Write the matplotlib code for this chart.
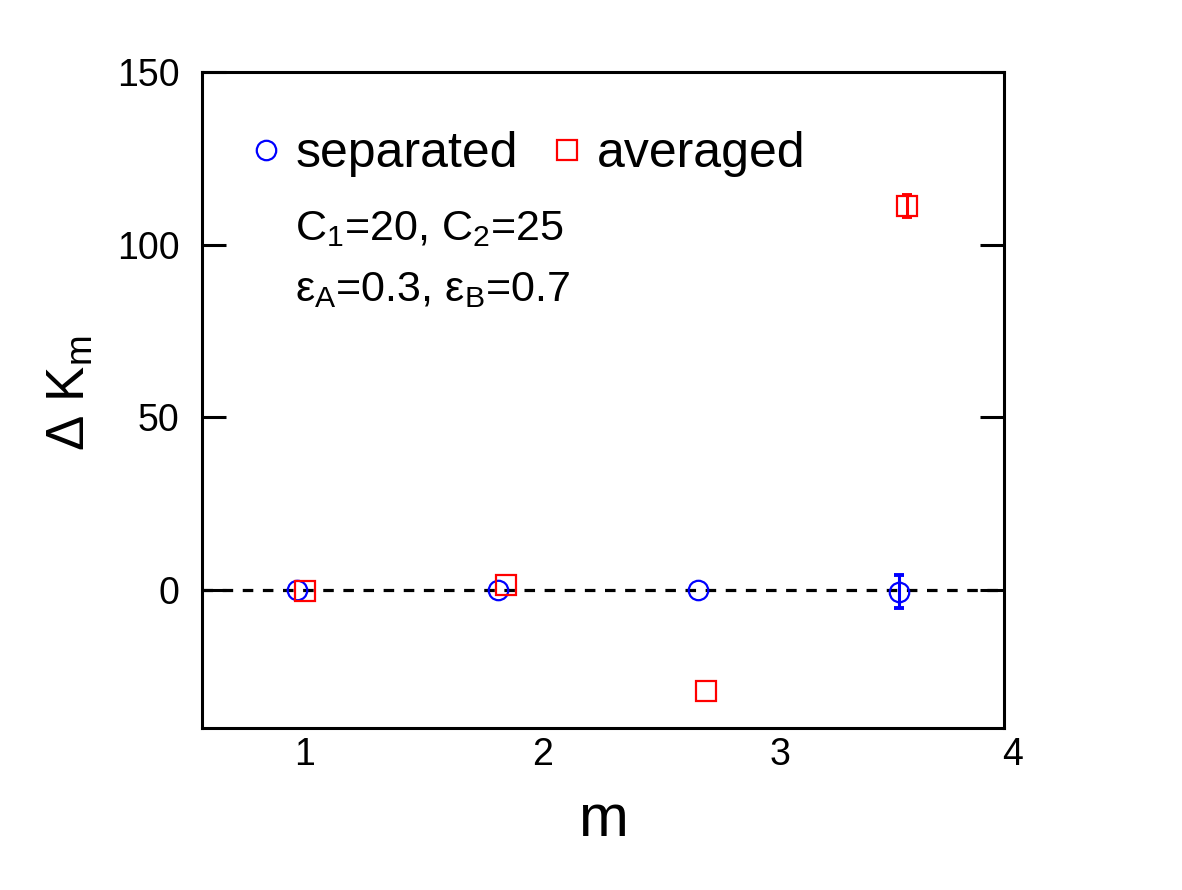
import matplotlib

matplotlib.use("Agg")
import matplotlib.pyplot as plt
from matplotlib.lines import Line2D
from matplotlib.transforms import blended_transform_factory

plt.rcParams["font.family"] = ["Liberation Sans", "DejaVu Sans"]
plt.rcParams["mathtext.fontset"] = "custom"
plt.rcParams["mathtext.rm"] = "Liberation Sans"
plt.rcParams["mathtext.default"] = "regular"

# separated (blue circles)
sep_m = [1.0, 2.0, 3.0, 4.0]
sep_dk = [0.0, 0.0, 0.0, -0.5]
sep_err = [0.0, 0.0, 0.0, 4.8]

# averaged (red squares)
avg_m = [1.04, 2.04, 3.04, 4.04]
avg_dk = [-0.2, 1.45, -29.2, 111.2]
avg_err = [0.0, 0.0, 0.0, 3.3]

# x tick labels as they sit on the original figure
xtick_pos = [1.04, 2.226, 3.407, 4.568]
xtick_lab = ["1", "2", "3", "4"]
yticks = [0, 50, 100, 150]

BLUE = "#0000ff"
RED = "#ff0000"


def draw_series(ax, xs, ys, errs, marker, ms, color):
    ax.plot(xs, ys, ls="none", marker=marker, ms=ms, mfc="none", mec=color, mew=1.6, zorder=3)
    # only the points that actually carry an error bar
    ex = [x for x, e in zip(xs, errs) if e > 0]
    ey = [y for y, e in zip(ys, errs) if e > 0]
    ee = [e for e in errs if e > 0]
    if ee:
        ax.errorbar(ex, ey, yerr=ee, fmt="none", ecolor=color, elinewidth=2.2,
                    capsize=3.5, capthick=2.8, zorder=3)


fig = plt.figure(figsize=(11.82, 8.90), dpi=100)
ax = fig.add_axes([0.1709, 0.182, 0.6785, 0.7371])

ax.axhline(0, color="black", lw=2.3, ls=(0, (3.3, 3.0)), zorder=1)

draw_series(ax, sep_m, sep_dk, sep_err, "o", 14, BLUE)
draw_series(ax, avg_m, avg_dk, avg_err, "s", 14.5, RED)

ax.set_xlim(0.5266, 4.523)
ax.set_ylim(-40, 150)
ax.set_yticks(yticks)
ax.set_xticks([])
ax.tick_params(axis="y", direction="in", length=17.3, width=2.2, labelsize=27, pad=16,
               left=True, right=True)
for s in ax.spines.values():
    s.set_linewidth(2.2)

trans = blended_transform_factory(ax.transData, ax.transAxes)
for xp, lab in zip(xtick_pos, xtick_lab):
    ax.text(xp, -0.0564, lab, transform=trans, ha="center", va="baseline", fontsize=27,
            clip_on=False)

ax.set_xlabel("m", fontsize=43, va="top")
ax.xaxis.set_label_coords(0.5, -0.099)
ax.set_ylabel("Δ K$_m$", fontsize=38)
ax.yaxis.set_label_coords(-0.133, 0.51)

handles = [
    Line2D([], [], ls="none", marker="o", ms=14, mfc="none", mec=BLUE, mew=1.6),
    Line2D([], [], ls="none", marker="s", ms=14.5, mfc="none", mec=RED, mew=1.6),
]
ax.legend(handles, ["separated", "averaged"], ncol=2, loc="upper left",
          bbox_to_anchor=(0.0605, 0.91), borderaxespad=0, borderpad=0, frameon=False,
          fontsize=36, handlelength=0.6, handletextpad=0.3, columnspacing=0.67)

ax.text(0.116, 0.744, "C$_1$=20, C$_2$=25", transform=ax.transAxes, fontsize=31,
        va="baseline")
ax.text(0.116, 0.651, "ε$_A$=0.3, ε$_B$=0.7", transform=ax.transAxes, fontsize=31,
        va="baseline")

fig.savefig("out.png", dpi=100)
